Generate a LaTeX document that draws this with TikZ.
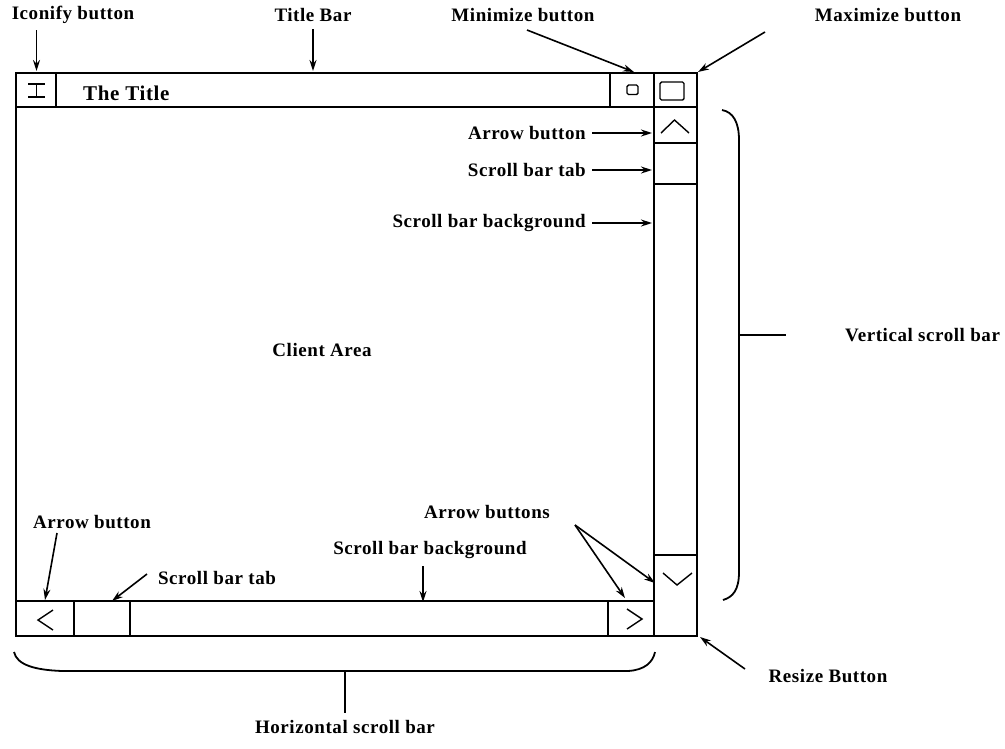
\documentclass[tikz,border=0pt]{standalone}
\usepackage{fontspec}
\setmainfont{Liberation Serif}[LetterSpace=3]
\usetikzlibrary{arrows.meta}
\begin{document}
\begin{tikzpicture}[x=1pt,y=-1pt,
  lbl/.style={font=\bfseries\fontsize{19}{22}\selectfont, inner sep=0pt},
  frame/.style={line width=2pt},
  divider/.style={line width=1.3pt},
  glyph/.style={line width=1.4pt, line join=miter},
  ptr/.style={line width=1.6pt, -{Stealth[length=11pt,width=7pt]}},
  bracket/.style={line width=1.8pt}]
\useasboundingbox (0,0) rectangle (1005,748);

% ---- window outline and title bar ----
\draw[frame] (16,73) rectangle (697,636);
\draw[frame] (16,107) -- (697,107);
\draw[divider] (56,73) -- (56,107);
\draw[divider] (610,73) -- (610,107);
\draw[divider] (654,73) -- (654,107);

% iconify glyph (I-beam)
\draw[glyph] (28,84) -- (45,84) (36.5,84) -- (36.5,97) (28,97) -- (45,97);
% minimize and maximize glyphs
\draw[glyph, rounded corners=1.5pt] (627,85) rectangle (638,94.5);
\draw[glyph, rounded corners=1.5pt] (660,82) rectangle (684,100);
\node[font=\bfseries\fontsize{21}{26}\selectfont, inner sep=0pt, anchor=west] (title) at (83,93) {The Title};

% ---- vertical scroll bar ----
\draw[frame] (654,107) -- (654,636);
\draw[divider] (654,143) -- (697,143);
\draw[divider] (654,184) -- (697,184);
\draw[divider] (654,555) -- (697,555);
\draw[glyph] (661,133) -- (674.5,120) -- (689,133);
\draw[glyph] (663,573) -- (677,585) -- (692,573);

% ---- horizontal scroll bar ----
\draw[divider] (16,601) -- (654,601);
\draw[divider] (74,601) -- (74,636);
\draw[divider] (130,601) -- (130,636);
\draw[divider] (608,601) -- (608,636);
\draw[glyph] (53,610) -- (38,620) -- (53,630);
\draw[glyph] (627,609) -- (642,619) -- (627,629);

\node[lbl] (client) at (322,350) {Client Area};

% ---- pointer targets ----
\coordinate (iconTip) at (36.5,71);
\coordinate (titleTip) at (313,71);
\coordinate (minTip) at (634,72);
\coordinate (maxTip) at (698,72);
\coordinate (vArrowTip) at (652,133);
\coordinate (vTabTip) at (652,170);
\coordinate (vBgTip) at (652,223);
\coordinate (hArrowTip) at (45,600);
\coordinate (hTabTip) at (112,601);
\coordinate (hBgTip) at (423,602);
\coordinate (rightArrowTip) at (625,598);
\coordinate (downArrowTip) at (655,583);
\coordinate (resizeTip) at (700,637);

% ---- pointer tails ----
\coordinate (iconTail) at (36.5,30);
\coordinate (titleTail) at (313,29);
\coordinate (minTail) at (527,30);
\coordinate (maxTail) at (765,32);
\coordinate (hArrowTail) at (57,533);
\coordinate (hTabTail) at (147,574);
\coordinate (hBgTail) at (423,566);
\coordinate (pairTail) at (575,525);
\coordinate (resizeTail) at (745,669);

% ---- labels ----
\node[lbl] (iconLbl) at (73,15) {Iconify button};
\node[lbl] (titleLbl) at (313,15) {Title Bar};
\node[lbl] (minLbl) at (523,15) {Minimize button};
\node[lbl] (maxLbl) at (888,15) {Maximize button};
\node[lbl, anchor=east] (vArrowLbl) at (586,133) {Arrow button};
\node[lbl, anchor=east] (vTabLbl) at (586,170) {Scroll bar tab};
\node[lbl, anchor=east] (vBgLbl) at (586,223) {Scroll bar background};
\node[lbl, anchor=west] (vBarLbl) at (845,335) {Vertical scroll bar};
\node[lbl] (hArrowLbl) at (92,522) {Arrow button};
\node[lbl] (hTabLbl) at (217,578) {Scroll bar tab};
\node[lbl] (hBgLbl) at (430,550) {Scroll bar background};
\node[lbl] (pairLbl) at (487,512) {Arrow buttons};
\node[lbl] (resizeLbl) at (828,676) {Resize Button};
\node[lbl] (hBarLbl) at (345,727) {Horizontal scroll bar};

% ---- pointers ----
\draw[ptr] (iconTail) -- (iconTip);
\draw[ptr] (titleTail) -- (titleTip);
\draw[ptr] (minTail) -- (minTip);
\draw[ptr] (maxTail) -- (maxTip);
\draw[ptr] ([xshift=6pt]vArrowLbl.east) -- (vArrowTip);
\draw[ptr] ([xshift=6pt]vTabLbl.east) -- (vTabTip);
\draw[ptr] ([xshift=6pt]vBgLbl.east) -- (vBgTip);
\draw[ptr] (hArrowTail) -- (hArrowTip);
\draw[ptr] (hTabTail) -- (hTabTip);
\draw[ptr] (hBgTail) -- (hBgTip);
\draw[ptr] (pairTail) -- (rightArrowTip);
\draw[ptr] (pairTail) -- (downArrowTip);
\draw[ptr] (resizeTail) -- (resizeTip);

% ---- brackets ----
\coordinate (vBraceMid) at (739,335);
\coordinate (vBraceTick) at (786,335);
\draw[bracket] (722,110) .. controls (733,112) and (739,122) .. (739,140)
  -- (739,572) .. controls (739,590) and (733,597) .. (723,600);
\draw[bracket] (vBraceMid) -- (vBraceTick);

\coordinate (hBraceMid) at (345,671);
\coordinate (hBraceTick) at (345,713);
\draw[bracket] (14,652) .. controls (17,665) and (35,670) .. (62,671)
  -- (628,671) .. controls (645,670) and (653,662) .. (655,652);
\draw[bracket] (hBraceMid) -- (hBraceTick);
\end{tikzpicture}
\end{document}
